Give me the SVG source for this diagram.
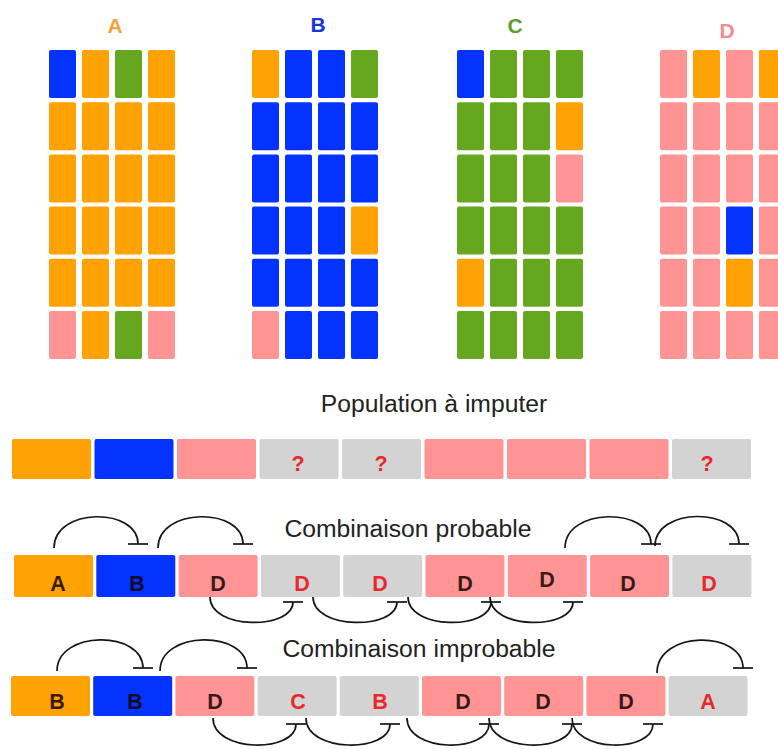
<svg xmlns="http://www.w3.org/2000/svg" width="778" height="749" viewBox="0 0 778 749">
<style>
.o{fill:#FFA206}.b{fill:#0433FF}.g{fill:#65A71F}.p{fill:#FF9494}.y{fill:#D3D3D3}
.ttl{font-family:"Liberation Sans",Arial,sans-serif;font-weight:bold;font-size:21px;text-anchor:middle}
.cap{font-family:"Liberation Sans",Arial,sans-serif;font-size:24.7px;fill:#222;text-anchor:middle}
.lt{font-family:"Liberation Sans",Arial,sans-serif;font-weight:bold;font-size:21.5px;text-anchor:middle}
.dk{fill:#150300;fill-opacity:0.85}.rd{fill:#E8282B}
.arc{fill:none;stroke:#151515;stroke-width:1.7;marker-end:url(#tee)}
</style>
<defs>
<marker id="tee" markerUnits="userSpaceOnUse" viewBox="-2 -11 4 22" markerWidth="4" markerHeight="22" refX="0" refY="0" orient="auto">
<line x1="0" y1="-10" x2="0" y2="10" stroke="#151515" stroke-width="1.7"/>
</marker>
<rect id="c" width="27" height="48" rx="2"/>
</defs>
<rect width="778" height="749" fill="#fff"/>

<g id="gridA">
<text class="ttl" x="115" y="33" fill="#F5A03A">A</text>
<g transform="translate(49,50)">
<use href="#c" class="b" x="0" y="0"/><use href="#c" class="o" x="33" y="0"/><use href="#c" class="g" x="66" y="0"/><use href="#c" class="o" x="99" y="0"/>
<use href="#c" class="o" x="0" y="52.2"/><use href="#c" class="o" x="33" y="52.2"/><use href="#c" class="o" x="66" y="52.2"/><use href="#c" class="o" x="99" y="52.2"/>
<use href="#c" class="o" x="0" y="104.4"/><use href="#c" class="o" x="33" y="104.4"/><use href="#c" class="o" x="66" y="104.4"/><use href="#c" class="o" x="99" y="104.4"/>
<use href="#c" class="o" x="0" y="156.6"/><use href="#c" class="o" x="33" y="156.6"/><use href="#c" class="o" x="66" y="156.6"/><use href="#c" class="o" x="99" y="156.6"/>
<use href="#c" class="o" x="0" y="208.8"/><use href="#c" class="o" x="33" y="208.8"/><use href="#c" class="o" x="66" y="208.8"/><use href="#c" class="o" x="99" y="208.8"/>
<use href="#c" class="p" x="0" y="261"/><use href="#c" class="o" x="33" y="261"/><use href="#c" class="g" x="66" y="261"/><use href="#c" class="p" x="99" y="261"/>
</g>
</g>

<g id="gridB">
<text class="ttl" x="318" y="32" fill="#1836D8">B</text>
<g transform="translate(252,50)">
<use href="#c" class="o" x="0" y="0"/><use href="#c" class="b" x="33" y="0"/><use href="#c" class="b" x="66" y="0"/><use href="#c" class="g" x="99" y="0"/>
<use href="#c" class="b" x="0" y="52.2"/><use href="#c" class="b" x="33" y="52.2"/><use href="#c" class="b" x="66" y="52.2"/><use href="#c" class="b" x="99" y="52.2"/>
<use href="#c" class="b" x="0" y="104.4"/><use href="#c" class="b" x="33" y="104.4"/><use href="#c" class="b" x="66" y="104.4"/><use href="#c" class="b" x="99" y="104.4"/>
<use href="#c" class="b" x="0" y="156.6"/><use href="#c" class="b" x="33" y="156.6"/><use href="#c" class="b" x="66" y="156.6"/><use href="#c" class="o" x="99" y="156.6"/>
<use href="#c" class="b" x="0" y="208.8"/><use href="#c" class="b" x="33" y="208.8"/><use href="#c" class="b" x="66" y="208.8"/><use href="#c" class="b" x="99" y="208.8"/>
<use href="#c" class="p" x="0" y="261"/><use href="#c" class="b" x="33" y="261"/><use href="#c" class="b" x="66" y="261"/><use href="#c" class="b" x="99" y="261"/>
</g>
</g>

<g id="gridC">
<text class="ttl" x="515" y="33" fill="#5E9C2C">C</text>
<g transform="translate(457,50)">
<use href="#c" class="b" x="0" y="0"/><use href="#c" class="g" x="33" y="0"/><use href="#c" class="g" x="66" y="0"/><use href="#c" class="g" x="99" y="0"/>
<use href="#c" class="g" x="0" y="52.2"/><use href="#c" class="g" x="33" y="52.2"/><use href="#c" class="g" x="66" y="52.2"/><use href="#c" class="o" x="99" y="52.2"/>
<use href="#c" class="g" x="0" y="104.4"/><use href="#c" class="g" x="33" y="104.4"/><use href="#c" class="g" x="66" y="104.4"/><use href="#c" class="p" x="99" y="104.4"/>
<use href="#c" class="g" x="0" y="156.6"/><use href="#c" class="g" x="33" y="156.6"/><use href="#c" class="g" x="66" y="156.6"/><use href="#c" class="g" x="99" y="156.6"/>
<use href="#c" class="o" x="0" y="208.8"/><use href="#c" class="g" x="33" y="208.8"/><use href="#c" class="g" x="66" y="208.8"/><use href="#c" class="g" x="99" y="208.8"/>
<use href="#c" class="g" x="0" y="261"/><use href="#c" class="g" x="33" y="261"/><use href="#c" class="g" x="66" y="261"/><use href="#c" class="g" x="99" y="261"/>
</g>
</g>

<g id="gridD">
<text class="ttl" x="727" y="38" fill="#F08C8C">D</text>
<g transform="translate(660,50)">
<use href="#c" class="p" x="0" y="0"/><use href="#c" class="o" x="33" y="0"/><use href="#c" class="p" x="66" y="0"/><use href="#c" class="o" x="99" y="0"/>
<use href="#c" class="p" x="0" y="52.2"/><use href="#c" class="p" x="33" y="52.2"/><use href="#c" class="p" x="66" y="52.2"/><use href="#c" class="p" x="99" y="52.2"/>
<use href="#c" class="p" x="0" y="104.4"/><use href="#c" class="p" x="33" y="104.4"/><use href="#c" class="p" x="66" y="104.4"/><use href="#c" class="p" x="99" y="104.4"/>
<use href="#c" class="p" x="0" y="156.6"/><use href="#c" class="p" x="33" y="156.6"/><use href="#c" class="b" x="66" y="156.6"/><use href="#c" class="p" x="99" y="156.6"/>
<use href="#c" class="p" x="0" y="208.8"/><use href="#c" class="p" x="33" y="208.8"/><use href="#c" class="o" x="66" y="208.8"/><use href="#c" class="p" x="99" y="208.8"/>
<use href="#c" class="p" x="0" y="261"/><use href="#c" class="p" x="33" y="261"/><use href="#c" class="p" x="66" y="261"/><use href="#c" class="p" x="99" y="261"/>
</g>
</g>

<text class="cap" x="434" y="412">Population à imputer</text>
<g id="population">
<rect class="o" x="12" y="439" width="79" height="40" rx="2"/>
<rect class="b" x="94.5" y="439" width="79" height="40" rx="2"/>
<rect class="p" x="177" y="439" width="79" height="40" rx="2"/>
<rect class="y" x="259.5" y="439" width="79" height="40" rx="2"/>
<rect class="y" x="342" y="439" width="79" height="40" rx="2"/>
<rect class="p" x="424.5" y="439" width="79" height="40" rx="2"/>
<rect class="p" x="507" y="439" width="79" height="40" rx="2"/>
<rect class="p" x="589.5" y="439" width="79" height="40" rx="2"/>
<rect class="y" x="672" y="439" width="79" height="40" rx="2"/>
<text class="lt rd" x="298" y="471">?</text>
<text class="lt rd" x="381" y="471">?</text>
<text class="lt rd" x="707" y="471">?</text>
</g>

<text class="cap" x="408" y="537">Combinaison probable</text>
<g id="probable">
<rect class="o" x="14" y="555" width="79" height="42" rx="2"/>
<rect class="b" x="96.3" y="555" width="79" height="42" rx="2"/>
<rect class="p" x="178.6" y="555" width="79" height="42" rx="2"/>
<rect class="y" x="260.9" y="555" width="79" height="42" rx="2"/>
<rect class="y" x="343.2" y="555" width="79" height="42" rx="2"/>
<rect class="p" x="425.5" y="555" width="79" height="42" rx="2"/>
<rect class="p" x="507.8" y="555" width="79" height="42" rx="2"/>
<rect class="p" x="590.1" y="555" width="79" height="42" rx="2"/>
<rect class="y" x="672.4" y="555" width="79" height="42" rx="2"/>
<text class="lt dk" x="58" y="591">A</text>
<text class="lt dk" x="137" y="591">B</text>
<text class="lt dk" x="218" y="591">D</text>
<text class="lt rd" x="302" y="591">D</text>
<text class="lt rd" x="380" y="591">D</text>
<text class="lt dk" x="465" y="591">D</text>
<text class="lt dk" x="547" y="587">D</text>
<text class="lt dk" x="628" y="591">D</text>
<text class="lt rd" x="709" y="591">D</text>
</g>

<text class="cap" x="419" y="657">Combinaison improbable</text>
<g id="improbable">
<rect class="o" x="11" y="676" width="79" height="40" rx="2"/>
<rect class="b" x="93.2" y="676" width="79" height="40" rx="2"/>
<rect class="p" x="175.4" y="676" width="79" height="40" rx="2"/>
<rect class="y" x="257.6" y="676" width="79" height="40" rx="2"/>
<rect class="y" x="339.8" y="676" width="79" height="40" rx="2"/>
<rect class="p" x="422" y="676" width="79" height="40" rx="2"/>
<rect class="p" x="504.2" y="676" width="79" height="40" rx="2"/>
<rect class="p" x="586.4" y="676" width="79" height="40" rx="2"/>
<rect class="y" x="668.6" y="676" width="79" height="40" rx="2"/>
<text class="lt dk" x="57" y="709">B</text>
<text class="lt dk" x="135" y="709">B</text>
<text class="lt dk" x="215" y="709">D</text>
<text class="lt rd" x="298" y="709">C</text>
<text class="lt rd" x="380" y="709">B</text>
<text class="lt dk" x="463" y="709">D</text>
<text class="lt dk" x="543" y="709">D</text>
<text class="lt dk" x="626" y="709">D</text>
<text class="lt rd" x="708" y="709">A</text>
</g>

<g id="connectors">
<path class="arc" d="M54,548 C54,507 138,507 138,544"/>
<path class="arc" d="M158,548 C158,507 243,507 243,544"/>
<path class="arc" d="M565,548 C565,507 651,507 651,544"/>
<path class="arc" d="M655,546 C655,507 739,507 739,544"/>
<path class="arc" d="M210,597 C210,630 293,630 293,602"/>
<path class="arc" d="M313,597 C313,630 397,630 397,602"/>
<path class="arc" d="M408,597 C408,630 491,630 491,602"/>
<path class="arc" d="M490,597 C490,630 573,630 573,602"/>
<path class="arc" d="M57,671 C57,630 143,630 143,668"/>
<path class="arc" d="M160,671 C160,630 247,630 247,668"/>
<path class="arc" d="M657,673 C657,630 743,630 743,668"/>
<path class="arc" d="M213,718 C213,753 296,753 296,724"/>
<path class="arc" d="M306,718 C306,753 390,753 390,724"/>
<path class="arc" d="M407,718 C407,753 489,753 489,724"/>
<path class="arc" d="M489,718 C489,753 572,753 572,724"/>
<path class="arc" d="M572,718 C572,753 653,753 653,724"/>
</g>
</svg>
